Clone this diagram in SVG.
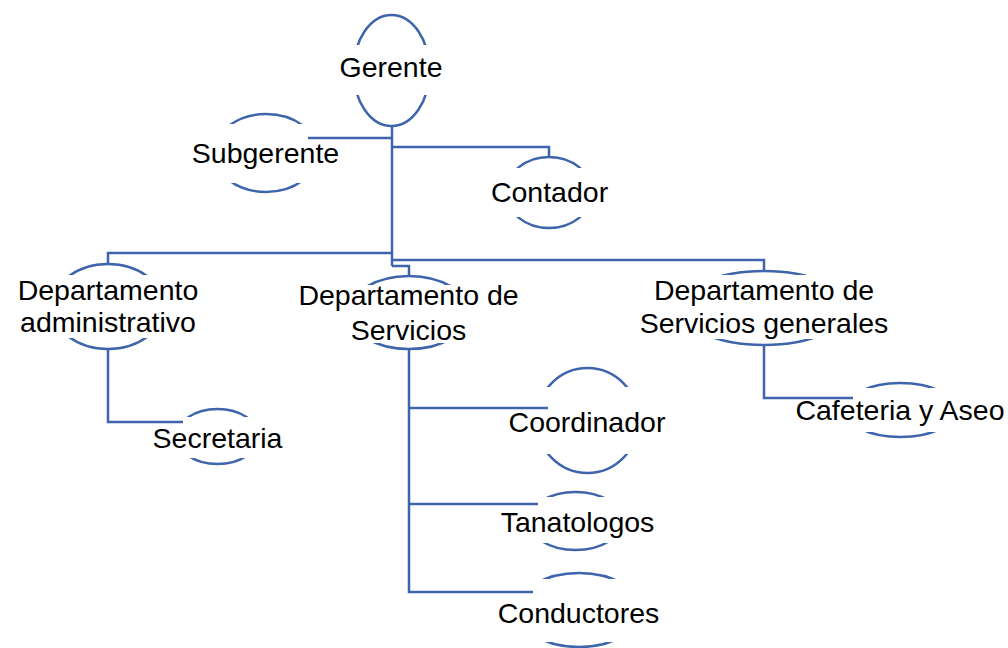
<svg xmlns="http://www.w3.org/2000/svg" width="1008" height="648" viewBox="0 0 1008 648">
<style>
.sh{fill:none;stroke:#3E64AC;stroke-width:2.5}
.bx{fill:#fff;stroke:none}
.cn{fill:none;stroke:#3E64AC;stroke-width:2.5}
text{font-family:"Liberation Sans",Arial,sans-serif;font-size:28.5px;fill:#000;text-anchor:middle}
</style>
<rect width="1008" height="648" fill="#fff"/>
<g id="gerente"><ellipse class="sh" cx="391.5" cy="70.5" rx="38" ry="55.5"/><rect class="bx" x="348" y="45" width="88" height="50"/><text x="391" y="77">Gerente</text></g>
<g id="subgerente"><ellipse class="sh" cx="266" cy="153" rx="52" ry="39"/><rect class="bx" x="210" y="124" width="112" height="59"/><text x="265.5" y="163">Subgerente</text></g>
<g id="contador"><ellipse class="sh" cx="549" cy="192.5" rx="43" ry="35.5"/><rect class="bx" x="502" y="168" width="94" height="49"/><text x="549.5" y="202">Contador</text></g>
<g id="dep-admin"><ellipse class="sh" cx="108" cy="306.5" rx="56" ry="42.5"/><rect class="bx" x="48" y="275" width="120" height="63"/><text x="108" y="300">Departamento</text><text x="108" y="332">administrativo</text></g>
<g id="dep-servicios"><ellipse class="sh" cx="409" cy="312.5" rx="60" ry="36.5"/><rect class="bx" x="345" y="285" width="128" height="58"/><text x="408.5" y="305">Departamento de</text><text x="408.5" y="340">Servicios</text></g>
<g id="dep-generales"><ellipse class="sh" cx="764" cy="308" rx="84" ry="37"/><rect class="bx" x="676" y="275" width="176" height="64"/><text x="764" y="300">Departamento de</text><text x="764" y="333">Servicios generales</text></g>
<g id="secretaria"><ellipse class="sh" cx="217.5" cy="436.5" rx="41" ry="27.5"/><rect class="bx" x="174" y="417" width="87" height="41"/><text x="217.5" y="448">Secretaria</text></g>
<g id="coordinador"><ellipse class="sh" cx="587.5" cy="420.5" rx="51" ry="52.5"/><rect class="bx" x="533" y="387" width="110" height="67"/><text x="587" y="432">Coordinador</text></g>
<g id="tanatologos"><ellipse class="sh" cx="575.5" cy="521" rx="47" ry="29"/><rect class="bx" x="526" y="497" width="100" height="46"/><text x="577.5" y="532">Tanatologos</text></g>
<g id="conductores"><ellipse class="sh" cx="579" cy="610" rx="62" ry="37"/><rect class="bx" x="514" y="579" width="130" height="63"/><text x="578.5" y="623">Conductores</text></g>
<g id="cafeteria"><ellipse class="sh" cx="900.5" cy="410" rx="56" ry="27"/><rect class="bx" x="842" y="388" width="117" height="44"/><text x="900" y="420">Cafeteria y Aseo</text></g>
<g id="connectors">
<path class="cn" d="M392 126V266"/>
<path class="cn" d="M392 253H108V264"/>
<path class="cn" d="M392 138H308"/>
<path class="cn" d="M392 147H549V157"/>
<path class="cn" d="M392 260H764V271"/>
<path class="cn" d="M392 266H409V276"/>
<path class="cn" d="M108 349V422H183"/>
<path class="cn" d="M409 349V592H533"/>
<path class="cn" d="M409 408H548"/>
<path class="cn" d="M409 504H538"/>
<path class="cn" d="M764 345V398H853"/>
</g>
</svg>
